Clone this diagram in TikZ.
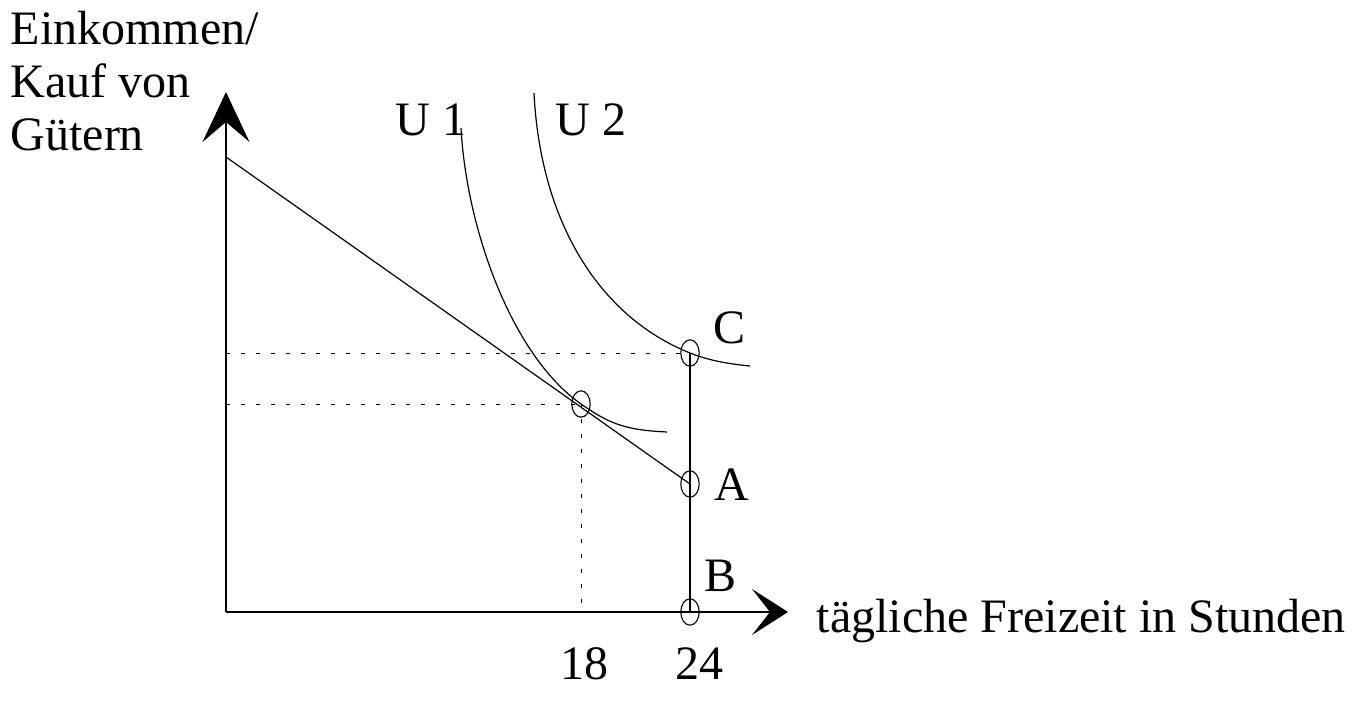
\documentclass[tikz,border=0pt]{standalone}
\usepackage{fontspec}
\setmainfont{Liberation Serif}
\usetikzlibrary{arrows.meta}
\begin{document}
\begin{tikzpicture}[x=0.5pt, y=-0.5pt, line width=0.7pt,
    lbl/.style={font=\fontsize{24}{26.5}\selectfont, inner sep=0pt, anchor=base west},
    yaxis/.style={-{Stealth[length=25pt, width=23.5pt, inset=10pt]}},
    xaxis/.style={-{Stealth[length=18pt, width=23pt, inset=9pt]}},
    guide/.style={line width=0.5pt, dash pattern=on 2pt off 5.5pt},
    curve/.style={line width=0.6pt},
    ring/.style={line width=0.55pt}]
        \useasboundingbox (0,0) rectangle (1367,702);

        % Axes
        \coordinate (O) at (226,612);
        \coordinate (ytip) at (226,92);
        \coordinate (xtip) at (788,612);
        \draw[yaxis] (O) -- (ytip);
        \draw[xaxis] (O) -- (xtip);

        % Points
        \coordinate (top) at (226,157);
        \coordinate (T) at (581,404);
        \coordinate (A) at (690,484);
        \coordinate (B) at (690,612);
        \coordinate (C) at (690,353);
        \coordinate (Cy) at (226,353);
        \coordinate (Ty) at (226,404);
        \coordinate (Tx) at (581,612);

        % Budget line and time limit
        \draw[curve] (top) -- (A);
        \draw (C) -- (B);

        % Guide lines
        \draw[guide] (Cy) -- (C);
        \draw[guide] (Ty) -- (T);
        \draw[guide] (T) -- (Tx);

        % Indifference curves
        \draw[curve] (461,128) .. controls (466.5,228) and (511,354.7) .. (T)
                     .. controls (611,425) and (627,430) .. (667,432);
        \draw[curve] (534,93) .. controls (540.5,223) and (600,317) .. (C)
                     .. controls (710,361) and (730,364) .. (750,366);

        % Marked points
        \foreach \p in {T,A,B,C}
            \draw[ring] (\p) ellipse [x radius=4.6pt, y radius=6.6pt];

        % Labels
        \node[lbl, anchor=north west, align=left] (ylab) at (10,10) {Einkommen/\\Kauf von\\Gütern};
        \node[lbl] (xlab) at (816,632) {tägliche Freizeit in Stunden};
        \node[lbl] (u1) at (395,135) {U 1};
        \node[lbl] (u2) at (555,135) {U 2};
        \node[lbl] (lC) at (713,343) {C};
        \node[lbl] (lA) at (714,500) {A};
        \node[lbl] (lB) at (704,591) {B};
        \node[lbl, anchor=base] (t18) at (584,679) {18};
        \node[lbl, anchor=base] (t24) at (699,679) {24};
\end{tikzpicture}
\end{document}
